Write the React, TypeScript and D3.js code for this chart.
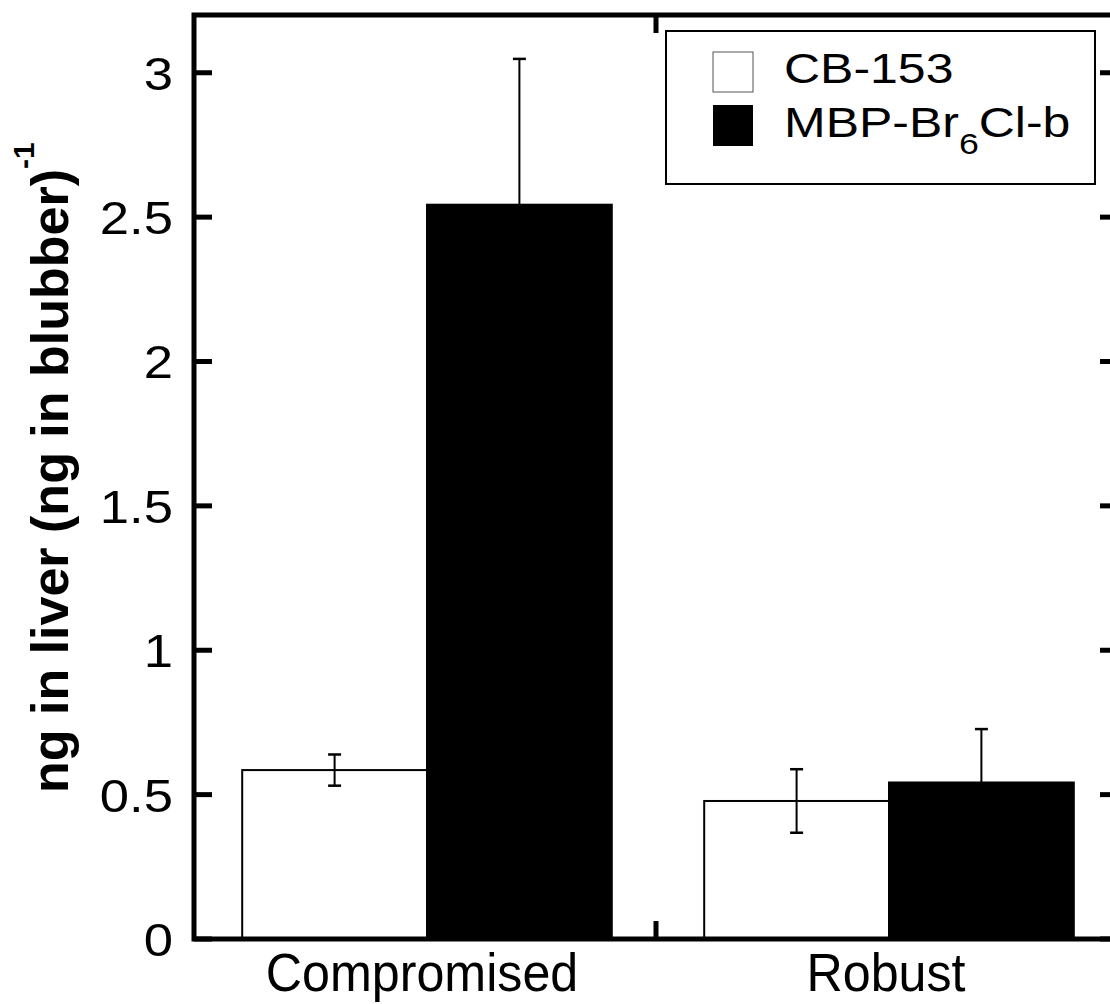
import React from "react";
import * as d3 from "d3";

const categories = ["Compromised", "Robust"];
const seriesNames = ["CB-153", "MBP-Br6Cl-b"];
const cb153Values = [0.585, 0.478];
const cb153Errors = [0.054, 0.11];
const mbpValues = [2.543, 0.542];
const mbpErrors = [0.505, 0.185];
const yTicks = [0, 0.5, 1, 1.5, 2, 2.5, 3];
const yTickLabels = ["0", "0.5", "1", "1.5", "2", "2.5", "3"];

const W = 1110;
const H = 1004;
const left = 194;
const right = 1118;
const top = 15;
const bottom = 939;
const font = "'Liberation Sans', Arial, sans-serif";
const labelShift = [-3, -1];

export default function App() {
  const x = d3.scaleBand<string>().domain(categories).range([left, right]).paddingInner(0).paddingOuter(0);
  const y = d3.scaleLinear().domain([0, 3.2]).range([bottom, top]);
  const inner = d3.scaleBand<string>().domain(seriesNames).range([0, x.bandwidth()]).paddingInner(0).paddingOuter(0.25);
  const series = [
    { name: seriesNames[0], values: cb153Values, errors: cb153Errors, fill: "#fff" },
    { name: seriesNames[1], values: mbpValues, errors: mbpErrors, fill: "#000" },
  ];
  const offset = 2;
  return (
    <svg width={W} height={H} style={{ position: "absolute", left: 0, top: 0, background: "#fff" }}>
      {series.map((s) =>
        categories.map((c, i) => {
          const bx = (x(c) as number) + (inner(s.name) as number) + offset;
          const bw = inner.bandwidth();
          const by = y(s.values[i]);
          const cx = bx + bw / 2;
          const eTop = y(s.values[i] + s.errors[i]);
          const eBot = y(s.values[i] - s.errors[i]);
          return (
            <g key={s.name + c}>
              <rect x={bx} y={by} width={bw} height={bottom - by} fill={s.fill} stroke="#000" strokeWidth={2} />
              <line x1={cx} x2={cx} y1={eTop} y2={eBot} stroke="#000" strokeWidth={2} />
              <line x1={cx - 6.5} x2={cx + 6.5} y1={eTop} y2={eTop} stroke="#000" strokeWidth={2.5} />
              <line x1={cx - 6.5} x2={cx + 6.5} y1={eBot} y2={eBot} stroke="#000" strokeWidth={2.5} />
            </g>
          );
        })
      )}
      {/* frame */}
      <rect x={left} y={top} width={right - left} height={bottom - top} fill="none" stroke="#000" strokeWidth={5} />
      {/* y ticks */}
      {yTicks.map((t, i) => (
        <g key={t}>
          <line x1={left} x2={left + 18} y1={y(t)} y2={y(t)} stroke="#000" strokeWidth={5} />
          <line x1={right - 18} x2={right} y1={y(t)} y2={y(t)} stroke="#000" strokeWidth={5} />
          <text transform={`translate(173,${y(t)}) scale(1.12,1)`} dy="0.36em" textAnchor="end" fontFamily={font} fontSize={47}>
            {yTickLabels[i]}
          </text>
        </g>
      ))}
      {/* x middle ticks */}
      {categories.slice(1).map((c) => (
        <g key={c}>
          <line x1={x(c) as number} x2={x(c) as number} y1={bottom} y2={bottom - 18} stroke="#000" strokeWidth={5} />
          <line x1={x(c) as number} x2={x(c) as number} y1={top} y2={top + 18} stroke="#000" strokeWidth={5} />
        </g>
      ))}
      {categories.map((c, i) => (
        <text
          key={c}
          transform={`translate(${(x(c) as number) + x.bandwidth() / 2 + labelShift[i]},991) scale(0.93,1)`}
          textAnchor="middle"
          fontFamily={font}
          fontSize={54}
        >
          {c}
        </text>
      ))}
      {/* y title */}
      <text transform="translate(68,793) rotate(-90)" textAnchor="start" fontFamily={font} fontSize={52} fontWeight="bold">
        ng in liver (ng in blubber)<tspan dy={-34} fontSize={30}>-1</tspan>
      </text>
      {/* legend */}
      <rect x={666} y={31} width={429} height={153} fill="#fff" stroke="#000" strokeWidth={2} />
      <rect x={713} y={52} width={40} height={40} fill="#fff" stroke="#555" strokeWidth={1} />
      <rect x={713} y={105} width={40} height={41} fill="#000" />
      <text transform="translate(784,83) scale(1.19,1)" fontFamily={font} fontSize={42}>CB-153</text>
      <text transform="translate(784,137) scale(1.19,1)" fontFamily={font} fontSize={42}>
        MBP-Br<tspan dy={17} fontSize={30}>6</tspan><tspan dy={-17}>Cl-b</tspan>
      </text>
    </svg>
  );
}
